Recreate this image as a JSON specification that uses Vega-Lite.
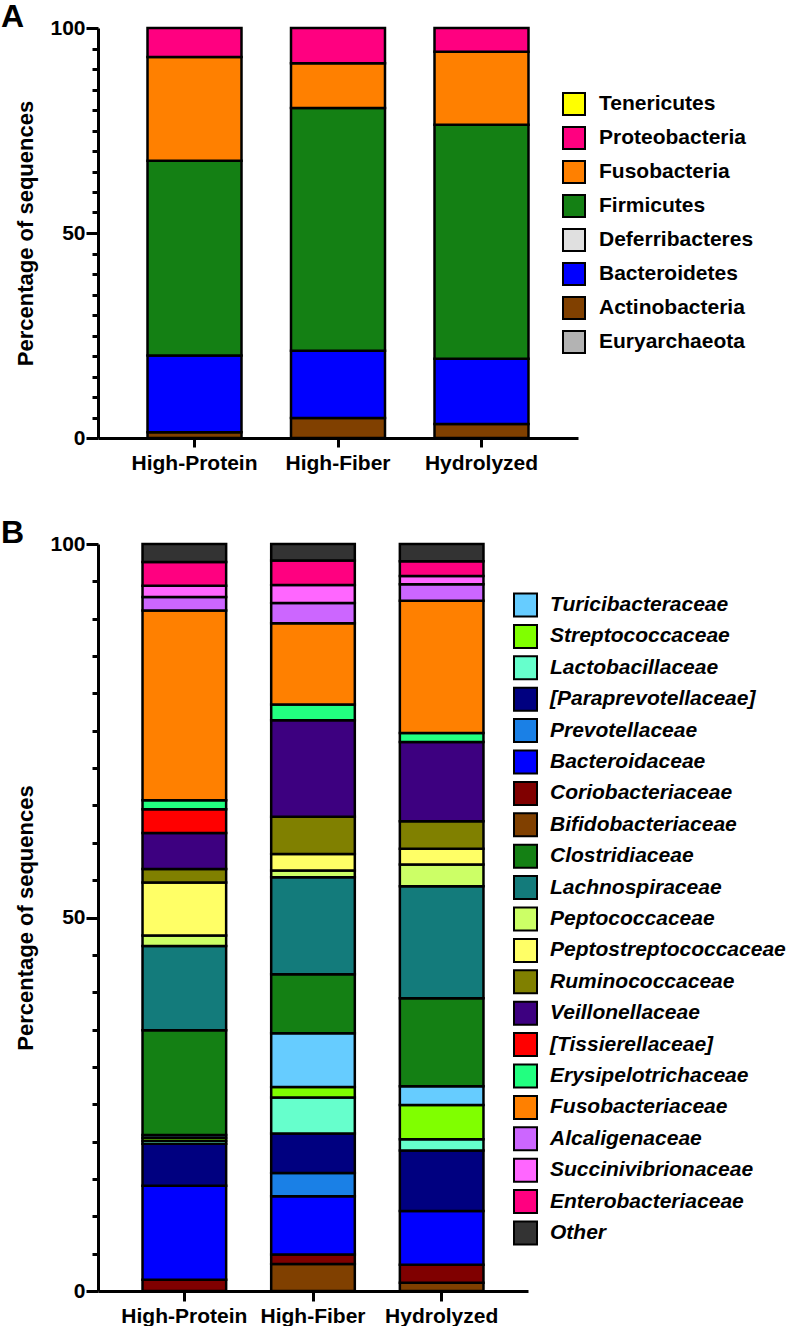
{
  "$schema": "https://vega.github.io/schema/vega-lite/v6.json",
  "padding": {"left": 0, "top": 1, "right": 0, "bottom": 0},
  "config": {
    "view": {"stroke": null},
    "font": "Liberation Sans",
    "axis": {
      "domainColor": "black", "domainWidth": 3, "tickColor": "black", "tickWidth": 3,
      "labelColor": "black", "labelFont": "Liberation Sans", "labelFontWeight": "bold", "labelFontSize": 21,
      "titleColor": "black", "titleFont": "Liberation Sans", "titleFontWeight": "bold", "titleFontSize": 22,
      "grid": false
    }
  },
  "resolve": {"scale": {"color": "independent"}, "legend": {"color": "independent"}},
  "datasets": {
    "phyla": [
      {"diet": "High-Protein", "phylum": "Actinobacteria", "pct": 1.4, "o": 2},
      {"diet": "High-Protein", "phylum": "Bacteroidetes", "pct": 18.7, "o": 3},
      {"diet": "High-Protein", "phylum": "Firmicutes", "pct": 47.5, "o": 5},
      {"diet": "High-Protein", "phylum": "Fusobacteria", "pct": 25.3, "o": 6},
      {"diet": "High-Protein", "phylum": "Proteobacteria", "pct": 7.1, "o": 7},
      {"diet": "High-Fiber", "phylum": "Actinobacteria", "pct": 4.9, "o": 2},
      {"diet": "High-Fiber", "phylum": "Bacteroidetes", "pct": 16.4, "o": 3},
      {"diet": "High-Fiber", "phylum": "Firmicutes", "pct": 59.2, "o": 5},
      {"diet": "High-Fiber", "phylum": "Fusobacteria", "pct": 10.9, "o": 6},
      {"diet": "High-Fiber", "phylum": "Proteobacteria", "pct": 8.6, "o": 7},
      {"diet": "Hydrolyzed", "phylum": "Actinobacteria", "pct": 3.4, "o": 2},
      {"diet": "Hydrolyzed", "phylum": "Bacteroidetes", "pct": 15.9, "o": 3},
      {"diet": "Hydrolyzed", "phylum": "Firmicutes", "pct": 57.1, "o": 5},
      {"diet": "Hydrolyzed", "phylum": "Fusobacteria", "pct": 17.8, "o": 6},
      {"diet": "Hydrolyzed", "phylum": "Proteobacteria", "pct": 5.8, "o": 7}
    ],
    "families": [
      {"diet": "High-Protein", "family": "Coriobacteriaceae", "pct": 1.5, "o": 2},
      {"diet": "High-Protein", "family": "Bacteroidaceae", "pct": 12.6, "o": 3},
      {"diet": "High-Protein", "family": "[Paraprevotellaceae]", "pct": 5.6, "o": 5},
      {"diet": "High-Protein", "family": "Lactobacillaceae", "pct": 0.4, "o": 6},
      {"diet": "High-Protein", "family": "Streptococcaceae", "pct": 0.4, "o": 7},
      {"diet": "High-Protein", "family": "Turicibacteraceae", "pct": 0.4, "o": 8},
      {"diet": "High-Protein", "family": "Clostridiaceae", "pct": 14.0, "o": 9},
      {"diet": "High-Protein", "family": "Lachnospiraceae", "pct": 11.3, "o": 10},
      {"diet": "High-Protein", "family": "Peptococcaceae", "pct": 1.4, "o": 11},
      {"diet": "High-Protein", "family": "Peptostreptococcaceae", "pct": 7.1, "o": 12},
      {"diet": "High-Protein", "family": "Ruminococcaceae", "pct": 1.8, "o": 13},
      {"diet": "High-Protein", "family": "Veillonellaceae", "pct": 4.8, "o": 14},
      {"diet": "High-Protein", "family": "[Tissierellaceae]", "pct": 3.2, "o": 15},
      {"diet": "High-Protein", "family": "Erysipelotrichaceae", "pct": 1.2, "o": 16},
      {"diet": "High-Protein", "family": "Fusobacteriaceae", "pct": 25.4, "o": 17},
      {"diet": "High-Protein", "family": "Alcaligenaceae", "pct": 1.8, "o": 18},
      {"diet": "High-Protein", "family": "Succinivibrionaceae", "pct": 1.5, "o": 19},
      {"diet": "High-Protein", "family": "Enterobacteriaceae", "pct": 3.2, "o": 20},
      {"diet": "High-Protein", "family": "Other", "pct": 2.4, "o": 21},
      {"diet": "High-Fiber", "family": "Bifidobacteriaceae", "pct": 3.6, "o": 1},
      {"diet": "High-Fiber", "family": "Coriobacteriaceae", "pct": 1.3, "o": 2},
      {"diet": "High-Fiber", "family": "Bacteroidaceae", "pct": 7.8, "o": 3},
      {"diet": "High-Fiber", "family": "Prevotellaceae", "pct": 3.1, "o": 4},
      {"diet": "High-Fiber", "family": "[Paraprevotellaceae]", "pct": 5.3, "o": 5},
      {"diet": "High-Fiber", "family": "Lactobacillaceae", "pct": 4.8, "o": 6},
      {"diet": "High-Fiber", "family": "Streptococcaceae", "pct": 1.4, "o": 7},
      {"diet": "High-Fiber", "family": "Turicibacteraceae", "pct": 7.2, "o": 8},
      {"diet": "High-Fiber", "family": "Clostridiaceae", "pct": 7.9, "o": 9},
      {"diet": "High-Fiber", "family": "Lachnospiraceae", "pct": 13.0, "o": 10},
      {"diet": "High-Fiber", "family": "Peptococcaceae", "pct": 0.9, "o": 11},
      {"diet": "High-Fiber", "family": "Peptostreptococcaceae", "pct": 2.2, "o": 12},
      {"diet": "High-Fiber", "family": "Ruminococcaceae", "pct": 5.0, "o": 13},
      {"diet": "High-Fiber", "family": "Veillonellaceae", "pct": 12.9, "o": 14},
      {"diet": "High-Fiber", "family": "Erysipelotrichaceae", "pct": 2.1, "o": 16},
      {"diet": "High-Fiber", "family": "Fusobacteriaceae", "pct": 10.9, "o": 17},
      {"diet": "High-Fiber", "family": "Alcaligenaceae", "pct": 2.7, "o": 18},
      {"diet": "High-Fiber", "family": "Succinivibrionaceae", "pct": 2.4, "o": 19},
      {"diet": "High-Fiber", "family": "Enterobacteriaceae", "pct": 3.3, "o": 20},
      {"diet": "High-Fiber", "family": "Other", "pct": 2.2, "o": 21},
      {"diet": "Hydrolyzed", "family": "Bifidobacteriaceae", "pct": 1.1, "o": 1},
      {"diet": "Hydrolyzed", "family": "Coriobacteriaceae", "pct": 2.4, "o": 2},
      {"diet": "Hydrolyzed", "family": "Bacteroidaceae", "pct": 7.2, "o": 3},
      {"diet": "Hydrolyzed", "family": "[Paraprevotellaceae]", "pct": 8.1, "o": 5},
      {"diet": "Hydrolyzed", "family": "Lactobacillaceae", "pct": 1.5, "o": 6},
      {"diet": "Hydrolyzed", "family": "Streptococcaceae", "pct": 4.6, "o": 7},
      {"diet": "Hydrolyzed", "family": "Turicibacteraceae", "pct": 2.5, "o": 8},
      {"diet": "Hydrolyzed", "family": "Clostridiaceae", "pct": 11.8, "o": 9},
      {"diet": "Hydrolyzed", "family": "Lachnospiraceae", "pct": 15.0, "o": 10},
      {"diet": "Hydrolyzed", "family": "Peptococcaceae", "pct": 2.9, "o": 11},
      {"diet": "Hydrolyzed", "family": "Peptostreptococcaceae", "pct": 2.1, "o": 12},
      {"diet": "Hydrolyzed", "family": "Ruminococcaceae", "pct": 3.7, "o": 13},
      {"diet": "Hydrolyzed", "family": "Veillonellaceae", "pct": 10.6, "o": 14},
      {"diet": "Hydrolyzed", "family": "Erysipelotrichaceae", "pct": 1.2, "o": 16},
      {"diet": "Hydrolyzed", "family": "Fusobacteriaceae", "pct": 17.7, "o": 17},
      {"diet": "Hydrolyzed", "family": "Alcaligenaceae", "pct": 2.2, "o": 18},
      {"diet": "Hydrolyzed", "family": "Succinivibrionaceae", "pct": 1.1, "o": 19},
      {"diet": "Hydrolyzed", "family": "Enterobacteriaceae", "pct": 2.0, "o": 20},
      {"diet": "Hydrolyzed", "family": "Other", "pct": 2.3, "o": 21}
    ]
  },
  "spacing": 44,
  "vconcat": [
    {
      "width": 480,
      "height": 410,
      "title": {"text": "A", "anchor": "start", "frame": "bounds", "fontSize": 32, "fontWeight": "bold", "color": "black", "font": "Liberation Sans", "offset": -17, "dx": -14},
      "data": {"name": "phyla"},
      "mark": {"type": "bar", "stroke": "black", "strokeWidth": 2.5},
      "encoding": {
        "x": {
          "field": "diet", "type": "nominal", "sort": ["High-Protein", "High-Fiber", "Hydrolyzed"],
          "scale": {"paddingInner": 0.345, "paddingOuter": 0.345},
          "axis": {"title": null, "labelAngle": 0, "tickSize": 9, "labelPadding": 5}
        },
        "y": {
          "field": "pct", "type": "quantitative", "stack": "zero",
          "scale": {"domain": [0, 100], "nice": false},
          "axis": {
            "title": "Percentage of sequences",
            "values": [0, 5, 10, 15, 20, 25, 30, 35, 40, 45, 50, 55, 60, 65, 70, 75, 80, 85, 90, 95, 100],
            "labelExpr": "datum.value % 50 === 0 ? datum.label : ''",
            "tickSize": {"condition": {"test": "datum.value % 50 === 0", "value": 12}, "value": 6},
            "labelPadding": 1,
            "titlePadding": 12
          }
        },
        "color": {
          "field": "phylum", "type": "nominal",
          "scale": {
            "domain": ["Tenericutes", "Proteobacteria", "Fusobacteria", "Firmicutes", "Deferribacteres", "Bacteroidetes", "Actinobacteria", "Euryarchaeota"],
            "range": ["#FFFF00", "#FF0080", "#FF8000", "#148014", "#E0E0E0", "#0000FF", "#804000", "#B3B3B3"]
          },
          "legend": {
            "orient": "none", "legendX": 464, "legendY": 64, "title": null, "padding": 0,
            "symbolType": "square", "symbolSize": 484, "symbolStrokeColor": "black", "symbolStrokeWidth": 2, "symbolOpacity": 1,
            "labelFontSize": 21, "labelFontWeight": "bold", "labelFontStyle": "normal", "labelColor": "black", "labelFont": "Liberation Sans",
            "rowPadding": 4, "labelOffset": 13, "labelLimit": 400
          }
        },
        "order": {"field": "o", "type": "quantitative", "sort": "ascending"}
      }
    },
    {
      "width": 430,
      "height": 747,
      "title": {"text": "B", "anchor": "start", "frame": "bounds", "fontSize": 32, "fontWeight": "bold", "color": "black", "font": "Liberation Sans", "offset": -17, "dx": -14},
      "data": {"name": "families"},
      "mark": {"type": "bar", "stroke": "black", "strokeWidth": 2.5},
      "encoding": {
        "x": {
          "field": "diet", "type": "nominal", "sort": ["High-Protein", "High-Fiber", "Hydrolyzed"],
          "scale": {"paddingInner": 0.35, "paddingOuter": 0.346},
          "axis": {"title": null, "labelAngle": 0, "tickSize": 10, "labelPadding": 4}
        },
        "y": {
          "field": "pct", "type": "quantitative", "stack": "zero",
          "scale": {"domain": [0, 100], "nice": false},
          "axis": {
            "title": "Percentage of sequences",
            "values": [0, 5, 10, 15, 20, 25, 30, 35, 40, 45, 50, 55, 60, 65, 70, 75, 80, 85, 90, 95, 100],
            "labelExpr": "datum.value % 50 === 0 ? datum.label : ''",
            "tickSize": {"condition": {"test": "datum.value % 50 === 0", "value": 12}, "value": 6},
            "labelPadding": 1,
            "titlePadding": 12
          }
        },
        "color": {
          "field": "family", "type": "nominal",
          "scale": {
            "domain": ["Turicibacteraceae", "Streptococcaceae", "Lactobacillaceae", "[Paraprevotellaceae]", "Prevotellaceae", "Bacteroidaceae", "Coriobacteriaceae", "Bifidobacteriaceae", "Clostridiaceae", "Lachnospiraceae", "Peptococcaceae", "Peptostreptococcaceae", "Ruminococcaceae", "Veillonellaceae", "[Tissierellaceae]", "Erysipelotrichaceae", "Fusobacteriaceae", "Alcaligenaceae", "Succinivibrionaceae", "Enterobacteriaceae", "Other"],
            "range": ["#66CCFF", "#80FF00", "#66FFCC", "#000080", "#1A80E6", "#0000FF", "#800000", "#804000", "#148014", "#137B7B", "#CCFF66", "#FFFF66", "#808000", "#3D0080", "#FF0000", "#22FF80", "#FF8000", "#CC66FF", "#FF66FF", "#FF0080", "#333333"]
          },
          "legend": {
            "orient": "none", "legendX": 415, "legendY": 48.5, "title": null, "padding": 0,
            "symbolType": "square", "symbolSize": 529, "symbolStrokeColor": "black", "symbolStrokeWidth": 2, "symbolOpacity": 1,
            "labelFontSize": 21, "labelFontWeight": "bold", "labelFontStyle": "italic", "labelColor": "black", "labelFont": "Liberation Sans",
            "rowPadding": 0.4, "labelOffset": 12, "labelLimit": 400, "symbolLimit": 30
          }
        },
        "order": {"field": "o", "type": "quantitative", "sort": "ascending"}
      }
    }
  ]
}
